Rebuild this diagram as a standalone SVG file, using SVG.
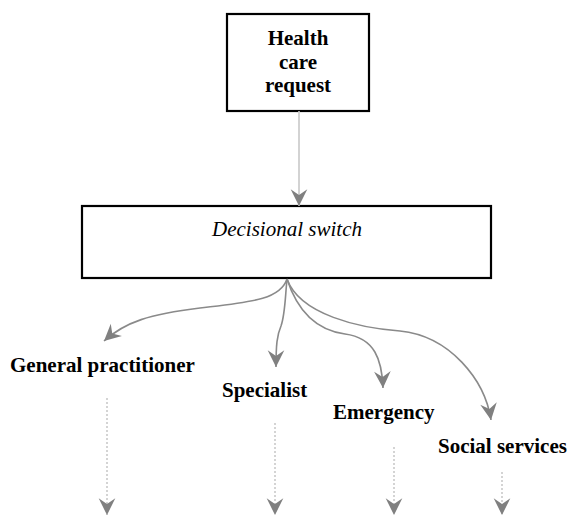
<svg xmlns="http://www.w3.org/2000/svg" width="570" height="516" viewBox="0 0 570 516">
<style>
.box{fill:#fff;stroke:#000;stroke-width:2.2}
.lbl{font-family:"Liberation Serif","Times New Roman",serif;font-weight:bold;font-size:21px;fill:#000}
.ital{font-family:"Liberation Serif","Times New Roman",serif;font-style:italic;font-size:21px;fill:#000}
.curve{fill:none;stroke:#8a8a8a;stroke-width:1.6}
.light{fill:none;stroke:#c8c8c8;stroke-width:1.6}
.dot{fill:none;stroke:#b8b8b8;stroke-width:1.2;stroke-dasharray:2 2}
</style>
<defs>
<marker id="ah" markerUnits="userSpaceOnUse" markerWidth="20" markerHeight="20" viewBox="-16 -9 18 18" refX="0" refY="0" orient="auto">
<path d="M0,0 L-15,-7.5 L-10,0 L-15,7.5 Z" fill="#808080"/>
</marker>
</defs>
<g id="health-care-request">
<rect class="box" x="227" y="14" width="142" height="97"/>
<text class="lbl" text-anchor="middle" x="298" y="45" font-size="20">Health</text>
<text class="lbl" text-anchor="middle" x="298" y="69" font-size="20">care</text>
<text class="lbl" text-anchor="middle" x="298" y="92" font-size="20">request</text>
</g>
<g id="decisional-switch">
<rect class="box" x="82" y="206" width="409" height="72"/>
<text class="ital" text-anchor="middle" x="287" y="236">Decisional switch</text>
</g>
<g id="general-practitioner">
<text class="lbl" x="10" y="372">General practitioner</text>
</g>
<g id="specialist">
<text class="lbl" x="222" y="397">Specialist</text>
</g>
<g id="emergency">
<text class="lbl" x="333" y="419">Emergency</text>
</g>
<g id="social-services">
<text class="lbl" x="438" y="453">Social services</text>
</g>
<g id="connectors">
<path class="light" d="M299,111 L299,206" marker-end="url(#ah)"/>
<path class="curve" d="M287,279 C280,300 250,302 200,308 C150,314 125,322 104,341" marker-end="url(#ah)"/>
<path class="curve" d="M287,279 C285,300 285,315 281,326 C277,335 276,345 276,367" marker-end="url(#ah)"/>
<path class="curve" d="M287,279 C297,310 315,330 345,334 C375,338 382,360 383,388" marker-end="url(#ah)"/>
<path class="curve" d="M287,279 C300,315 360,328 400,331 C450,336 485,380 491,420" marker-end="url(#ah)"/>
<path class="dot" d="M107,398 L107,515" marker-end="url(#ah)"/>
<path class="dot" d="M275,423 L275,515" marker-end="url(#ah)"/>
<path class="dot" d="M394,447 L394,515" marker-end="url(#ah)"/>
<path class="dot" d="M502,472 L502,515" marker-end="url(#ah)"/>
</g>
</svg>
